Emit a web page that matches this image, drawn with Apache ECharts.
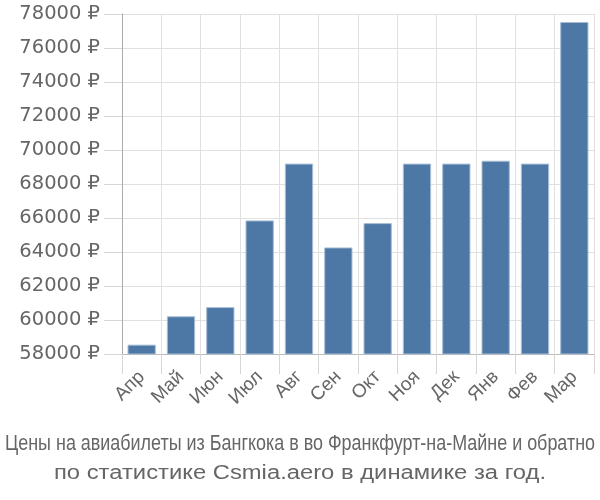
<!DOCTYPE html>
<html><head><meta charset="utf-8">
<script src="https://cdn.jsdelivr.net/npm/echarts@6/dist/echarts.min.js"></script>
<style>html,body{margin:0;padding:0;background:#fff}#c{width:600px;height:500px}</style>
</head><body><div id="c"></div>
<script>
const categories = ['Апр','Май','Июн','Июл','Авг','Сен','Окт','Ноя','Дек','Янв','Фев','Мар'];
const prices = [58550, 60220, 60760, 65860, 69200, 64270, 65700, 69200, 69200, 69370, 69200, 77530];
const titleLine1 = 'Цены на авиабилеты из Бангкока в во Франкфурт-на-Майне и обратно';
const titleLine2 = 'по статистике Csmia.aero в динамике за год.';

const chart = echarts.init(document.getElementById('c'));
chart.setOption({
  animation: false,
  grid: {left: 122, right: 6, top: 14, bottom: 146},
  graphic: [
    {type: 'text', x: 300, y: 455, scaleX: 0.815, style: {text: titleLine1, align: 'center', verticalAlign: 'bottom',
      font: 'normal 22px "Liberation Sans", sans-serif', fill: '#666'}},
    {type: 'text', x: 300, y: 484, scaleX: 1.22, style: {text: titleLine2, align: 'center', verticalAlign: 'bottom',
      font: 'normal 19.5px "Liberation Sans", sans-serif', fill: '#666'}}
  ],
  xAxis: {
    type: 'category', data: categories,
    axisLine: {lineStyle: {color: '#bbb'}},
    axisTick: {show: true, length: 20, lineStyle: {color: '#d6d6d6'}},
    splitLine: {show: true, lineStyle: {color: '#e0e0e0'}},
    axisLabel: {rotate: 45, fontSize: 19, color: '#666', fontFamily: 'Liberation Sans, Arial, sans-serif', margin: 20}
  },
  yAxis: {
    type: 'value', min: 58000, max: 78000, interval: 2000,
    axisLine: {show: true, lineStyle: {color: '#aaa'}},
    axisTick: {show: true, length: 18, lineStyle: {color: '#d6d6d6'}},
    splitLine: {lineStyle: {color: '#e0e0e0'}},
    axisLabel: {fontSize: 19.5, color: '#666', fontFamily: 'DejaVu Sans, sans-serif', margin: 22, formatter: v => v + ' ₽'}
  },
  series: [{
    type: 'bar', data: prices, barCategoryGap: '28%',
    itemStyle: {color: '#4d78a6', borderColor: '#a9bfd6', borderWidth: 1}
  }]
});
</script></body></html>
